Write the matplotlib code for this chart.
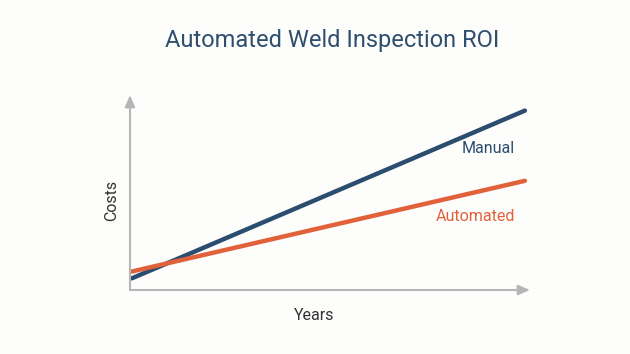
import matplotlib.pyplot as plt

plt.rcParams['font.family'] = ['Roboto', 'DejaVu Sans']

years = [0, 10]
manual = [0.6, 9.2]
automated = [0.95, 5.6]

blue = "#2b4d6e"
orange = "#e0613a"
grey = "#b5b5b5"

W, H = 630, 354
fig = plt.figure(figsize=(W / 100, H / 100), dpi=100)
fig.patch.set_facecolor("#fdfdfc")

# axes box in pixel coords: x 130..530, y 95..290
ax = fig.add_axes([130 / W, (H - 290) / H, 400 / W, (290 - 95) / H])
ax.set_facecolor("none")
ax.set_xlim(-0.05, 10.13)
ax.set_ylim(0, 10)

ax.plot(years, manual, color=blue, lw=3.2, solid_capstyle="round")
ax.plot(years, automated, color=orange, lw=3.2, solid_capstyle="round")

for s in ax.spines.values():
    s.set_visible(False)
ax.set_xticks([])
ax.set_yticks([])

# axis arrows
ax.annotate("", xy=(1, 0), xytext=(0, 0), xycoords="axes fraction",
            arrowprops=dict(arrowstyle="-|>,head_length=0.7,head_width=0.3",
                            color=grey, lw=1.5, shrinkA=0, shrinkB=0))
ax.annotate("", xy=(0, 1), xytext=(0, 0), xycoords="axes fraction",
            arrowprops=dict(arrowstyle="-|>,head_length=0.7,head_width=0.3",
                            color=grey, lw=1.5, shrinkA=0, shrinkB=0))

ax.text(9.75, manual[1] - 1.95, "Manual", color=blue, fontsize=11.5,
        ha="right", va="center")
ax.text(9.75, automated[1] - 1.85, "Automated", color=orange, fontsize=11.5,
        ha="right", va="center")

fig.text(332 / W, 1 - 40 / H, "Automated Weld Inspection ROI", color="#2f4f6f",
         fontsize=17, ha="center", va="center")
fig.text(112 / W, 1 - 200 / H, "Costs", color="#333333", fontsize=11.5,
         rotation=90, ha="center", va="center")
fig.text(314 / W, 1 - 315 / H, "Years", color="#333333", fontsize=11.5,
         ha="center", va="center")

fig.savefig("out.png", dpi=100, facecolor=fig.get_facecolor())
